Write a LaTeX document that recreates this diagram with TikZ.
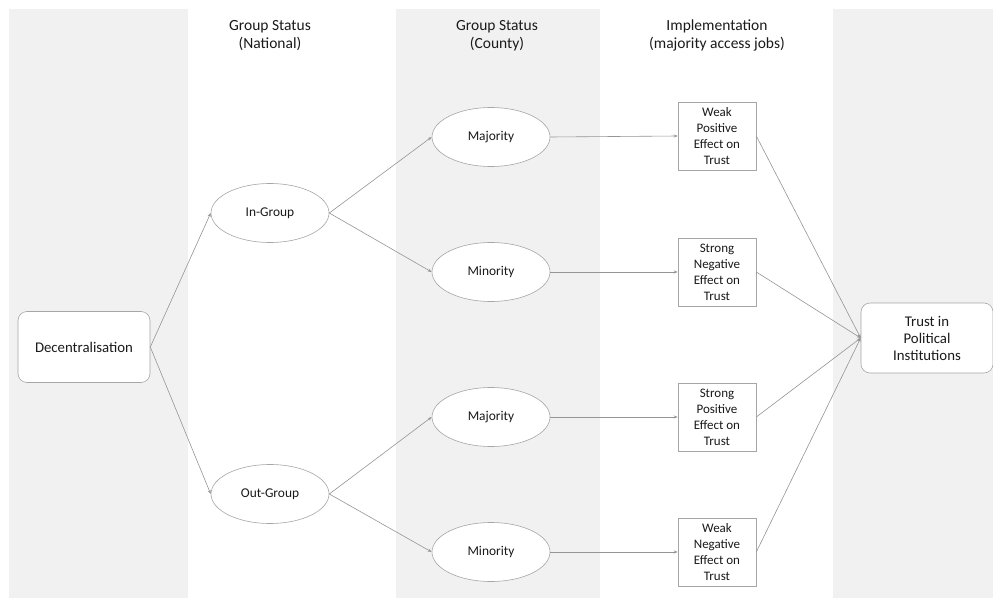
\documentclass[tikz,border=0pt]{standalone}
\usepackage{fontspec}
\setmainfont{Carlito}
\usetikzlibrary{shapes.geometric,arrows.meta}
\definecolor{band}{HTML}{F1F1F1}
\definecolor{edge}{HTML}{A6A6A6}
\definecolor{ink}{HTML}{1A1A1A}
\begin{document}
\begin{tikzpicture}[x=1pt,y=-1pt,
  every node/.style={text=ink},
  header/.style={align=center,font=\fontsize{15.5}{18}\selectfont},
  roundbox/.style={draw=edge,fill=white,rounded corners=9pt,minimum width=132pt,minimum height=71pt,align=center,font=\fontsize{14.8}{17}\selectfont,line width=0.6pt},
  oval/.style={ellipse,draw=edge,fill=white,minimum width=118pt,minimum height=59pt,inner sep=0pt,font=\fontsize{13.4}{15}\selectfont,line width=0.6pt},
  effbox/.style={draw=edge,fill=white,minimum width=78pt,minimum height=68pt,inner sep=1pt,align=center,font=\fontsize{13}{16}\selectfont,line width=0.6pt},
  conn/.style={draw=edge!90!black,line width=0.6pt,-{Stealth[length=4pt,width=3pt]}}]
\useasboundingbox (0,0) rectangle (993,599);
\fill[white] (0,0) rectangle (993,599);
\fill[band] (9,9) rectangle (188,598);
\fill[band] (396,9) rectangle (600,598);
\fill[band] (833,9) rectangle (993,598);

\node[header] (h1) at (270,36) {Group Status\\ (National)};
\node[header] (h2) at (497,36) {Group Status\\ (County)};
\node[header] (h3) at (717,35) {Implementation\\(majority access jobs)};

\node[roundbox] (dec) at (84,347) {Decentralisation};
\node[oval] (in) at (270,213) {In-Group};
\node[oval] (out) at (270,494) {Out-Group};
\node[oval] (maj1) at (491,137) {Majority};
\node[oval] (min1) at (491,272) {Minority};
\node[oval] (maj2) at (491,417) {Majority};
\node[oval] (min2) at (491,552) {Minority};
\node[effbox] (e1) at (717,136) {Weak\\Positive\\Effect on\\Trust};
\node[effbox] (e2) at (717,272) {Strong\\Negative\\Effect on\\Trust};
\node[effbox] (e3) at (717,417) {Strong\\Positive\\Effect on\\Trust};
\node[effbox] (e4) at (717,552) {Weak\\Negative\\Effect on\\Trust};
\node[roundbox,minimum height=70pt] (trust) at (927,338) {Trust in\\Political\\Institutions};

\draw[conn] (dec.east) -- (in.west);
\draw[conn] (dec.east) -- (out.west);
\draw[conn] (in.east) -- (maj1.west);
\draw[conn] (in.east) -- (min1.west);
\draw[conn] (out.east) -- (maj2.west);
\draw[conn] (out.east) -- (min2.west);
\draw[conn] (maj1.east) -- (e1.west);
\draw[conn] (min1.east) -- (e2.west);
\draw[conn] (maj2.east) -- (e3.west);
\draw[conn] (min2.east) -- (e4.west);
\draw[conn] (e1.east) -- (trust.west);
\draw[conn] (e2.east) -- (trust.west);
\draw[conn] (e3.east) -- (trust.west);
\draw[conn] (e4.east) -- (trust.west);
\end{tikzpicture}
\end{document}
